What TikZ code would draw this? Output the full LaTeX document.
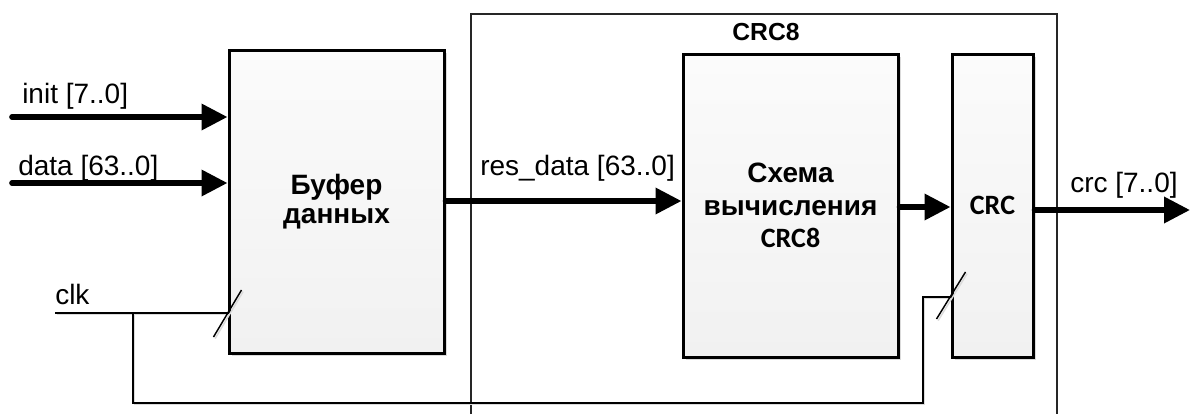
\documentclass[tikz,border=0pt]{standalone}
\usepackage{fontspec}
\setmainfont{Liberation Sans}
\newfontfamily\calib{Carlito}
\usetikzlibrary{arrows.meta,shadows}

\begin{document}
\begin{tikzpicture}[x=0.75pt,y=-0.75pt,
  box/.style={draw=black, line width=2.25pt, top color=gray!3, bottom color=gray!11,
    drop shadow={shadow xshift=2pt, shadow yshift=-2pt, fill=black!14, opacity=1},
    inner sep=0pt, align=center, minimum height=227.25pt},
  lineshadow/.style={preaction={draw=black!14, line width=1.1pt, transform canvas={shift={(1.2pt,-1.2pt)}}}},
  bus/.style={line width=4.2pt, line cap=round, -{Triangle[length=19.5pt,width=19pt]}},
  wire/.style={line width=1.1pt, black, lineshadow},
  sig/.style={font=\fontsize{21}{24}\selectfont, inner sep=0pt, anchor=base west}
]
\useasboundingbox (0,0) rectangle (1195,414);

% enclosing CRC8 block (open at the bottom edge)
\draw[line width=1pt, black!85] (471,414) -- (471,14) -- (1057,14) -- (1057,414);
\node[font=\fontsize{18.5}{22}\selectfont\bfseries, inner sep=0pt, anchor=base] (title) at (766,40) {CRC8};

% blocks
\node[box, minimum width=161.25pt, font=\fontsize{21}{22}\selectfont\bfseries] (buffer) at (336.5,201.5) {Буфер\\данных};
\node[box, minimum width=161.25pt, font=\fontsize{21}{24.5}\selectfont\bfseries] (crccalc) at (790.5,205.5) {Схема\\вычисления\\{\calib CRC8}};
\node[box, minimum width=60.75pt, font=\fontsize{21}{24}\selectfont\bfseries\calib] (crcreg) at (992.5,205.5) {CRC};

% free ends of the input / output buses
\coordinate (initin) at (12,117);
\coordinate (datain) at (12,183);
\coordinate (crcout) at (1190,210);
\coordinate (clkin) at (55,313);
\coordinate (clkbranch) at (133,313);
\coordinate (fbturn) at (923,403);

% buses
\draw[bus] (initin) -- (buffer.west |- initin);
\draw[bus] (datain) -- (buffer.west |- datain);
\draw[bus] (buffer.east |- 0,201) -- (crccalc.west |- 0,201);
\draw[bus] (crccalc.east |- 0,207) -- (crcreg.west |- 0,207);
\draw[bus] (crcreg.east |- crcout) -- (crcout);

% clock distribution
\draw[wire] (clkin) -- (buffer.west |- clkin) coordinate (clkbuf);
\draw[wire] (clkbranch) |- (fbturn) |- (crcreg.west |- 0,297) coordinate (clkreg);
\draw[wire] ([shift={(-14,24)}]clkbuf) -- ([shift={(14,-23)}]clkbuf);
\draw[wire] ([shift={(-14,22)}]clkreg) -- ([shift={(15,-25)}]clkreg);

% signal names
\node[sig] (initlbl) at (22,103) {init [7..0]};
\node[sig] (datalbl) at (18,175) {data [63..0]};
\node[sig] (reslbl) at (480,175) {res\_data [63..0]};
\node[sig] (crclbl) at (1070,192) {crc [7..0]};
\node[sig] (clklbl) at (55,304) {clk};
\end{tikzpicture}
\end{document}
